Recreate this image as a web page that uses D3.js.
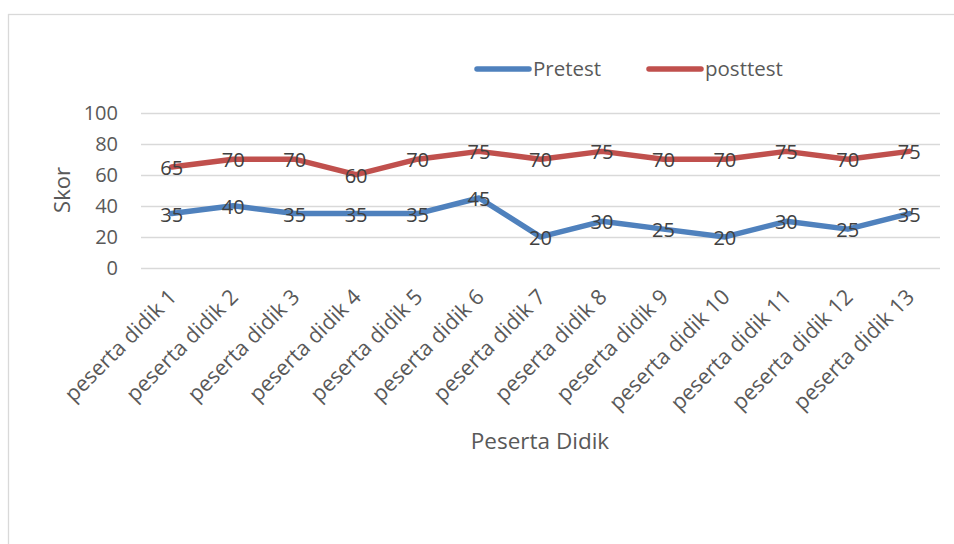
<!DOCTYPE html>
<html>
<head>
<meta charset="utf-8">
<script src="https://cdn.jsdelivr.net/npm/d3@7"></script>
<style>
  body { margin: 0; background: #fff; }
  text { font-family: "Open Sans", "Noto Sans", sans-serif; }
</style>
</head>
<body>
<div id="chart"></div>
<script>
// chart data
const categories = ["peserta didik 1", "peserta didik 2", "peserta didik 3", "peserta didik 4",
  "peserta didik 5", "peserta didik 6", "peserta didik 7", "peserta didik 8", "peserta didik 9",
  "peserta didik 10", "peserta didik 11", "peserta didik 12", "peserta didik 13"];
const pretest = [35, 40, 35, 35, 35, 45, 20, 30, 25, 20, 30, 25, 35];
const posttest = [65, 70, 70, 60, 70, 75, 70, 75, 70, 70, 75, 70, 75];
const yTicks = [0, 20, 40, 60, 80, 100];
const seriesNames = ["Pretest", "posttest"];
const seriesColors = ["#4F81BD", "#C0504D"];

function init() {
    const width = 954, height = 544;
    const svg = d3.select("#chart").append("svg")
                  .attr("width", width)
                  .attr("height", height);

    // outer chart border
    svg.append("rect")
       .attr("x", 8.5).attr("y", 14.5)
       .attr("width", 960).attr("height", 560)
       .attr("fill", "none")
       .attr("stroke", "#d9d9d9")
       .attr("stroke-width", 1.3);

    const x = d3.scaleBand().domain(categories).range([141, 940]);
    const y = d3.scaleLinear().domain([0, 100]).range([268, 112.5]);

    // gridlines
    svg.append("g").selectAll("line")
       .data(yTicks).enter().append("line")
       .attr("x1", 141).attr("x2", 940)
       .attr("y1", d => Math.round(y(d)) + 0.5)
       .attr("y2", d => Math.round(y(d)) + 0.5)
       .attr("stroke", "#d9d9d9")
       .attr("stroke-width", 1.3);

    // y tick labels
    svg.append("g").selectAll("text")
       .data(yTicks).enter().append("text")
       .attr("x", 118).attr("y", d => y(d))
       .attr("dy", "0.35em")
       .attr("text-anchor", "end")
       .attr("font-size", 20)
       .attr("fill", "#595959")
       .text(d => d);

    // x tick labels, rotated
    svg.append("g").selectAll("text")
       .data(categories).enter().append("text")
       .attr("transform", d => `translate(${x(d) + x.bandwidth() / 2 + 1},${293}) rotate(-45)`)
       .attr("text-anchor", "end")
       .attr("dy", "0.35em")
       .attr("font-size", 21.5)
       .attr("fill", "#595959")
       .text(d => d);

    // axis titles
    svg.append("text")
       .attr("transform", "translate(62,190) rotate(-90)")
       .attr("text-anchor", "middle")
       .attr("dy", "0.35em")
       .attr("font-size", 22)
       .attr("fill", "#595959")
       .text("Skor");

    svg.append("text")
       .attr("x", 540).attr("y", 441)
       .attr("text-anchor", "middle")
       .attr("dy", "0.35em")
       .attr("font-size", 22.5)
       .attr("fill", "#595959")
       .text("Peserta Didik");

    // lines
    const line = d3.line()
                   .x((d, i) => x(categories[i]) + x.bandwidth() / 2)
                   .y(d => y(d));

    [pretest, posttest].forEach((values, k) => {
        svg.append("path")
           .datum(values)
           .attr("d", line)
           .attr("fill", "none")
           .attr("stroke", seriesColors[k])
           .attr("stroke-width", 5.5)
           .attr("stroke-linejoin", "round")
           .attr("stroke-linecap", "round");
    });

    // data labels, centred on points
    [pretest, posttest].forEach(values => {
        svg.append("g").selectAll("text")
           .data(values).enter().append("text")
           .attr("x", (d, i) => x(categories[i]) + x.bandwidth() / 2)
           .attr("y", d => y(d))
           .attr("dy", "0.4em")
           .attr("text-anchor", "middle")
           .attr("font-size", 20)
           .attr("fill", "#404040")
           .text(d => d);
    });

    // legend
    const legendX = [475, 647];
    seriesNames.forEach((name, k) => {
        svg.append("line")
           .attr("x1", legendX[k] + 2).attr("x2", legendX[k] + 54)
           .attr("y1", 69).attr("y2", 69)
           .attr("stroke", seriesColors[k])
           .attr("stroke-width", 5.5)
           .attr("stroke-linecap", "round");
        svg.append("text")
           .attr("x", legendX[k] + 58).attr("y", 69)
           .attr("dy", "0.35em")
           .attr("font-size", 20.5)
           .attr("fill", "#595959")
           .text(name);
    });
}

window.onload = init;
</script>
</body>
</html>
